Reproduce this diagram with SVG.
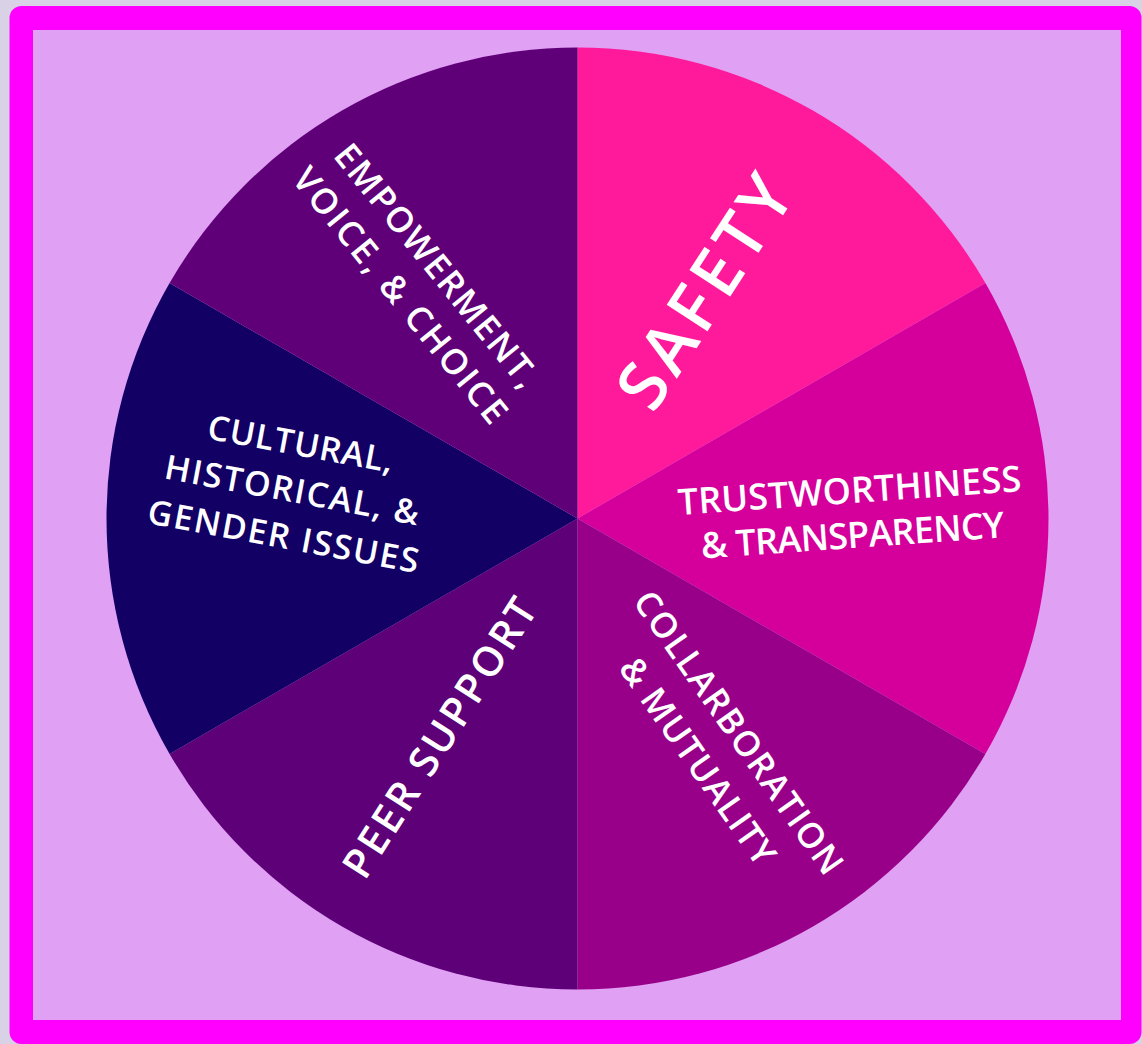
<svg xmlns="http://www.w3.org/2000/svg" width="1142" height="1044" viewBox="0 0 1142 1044">
<style>
.lbl{font-family:"Open Sans","Liberation Sans",sans-serif;font-weight:600;fill:#ffffff;text-anchor:middle}
</style>
<rect x="0" y="0" width="1142" height="1044" fill="#D9D1E6"/>
<rect x="9.5" y="6" width="1132" height="1038" rx="12" fill="#FF00FF"/>
<rect x="33" y="30" width="1088" height="990" fill="#E0A0F4"/>
<g id="connectors"></g>
<g id="safety">
<path d="M577.5,518.5 L577.5,47.5 A471,471 0 0 1 985.4,283 Z" fill="#FF1A9C"/>
<g transform="translate(705,292) rotate(-57)"><text class="lbl" x="0" y="23.5" font-size="68" textLength="262" lengthAdjust="spacing">SAFETY</text></g>
</g>
<g id="trustworthiness">
<path d="M577.5,518.5 L985.4,283 A471,471 0 0 1 985.4,754 Z" fill="#D5009B"/>
<g transform="translate(851,513) rotate(-4)"><text class="lbl" x="0" y="-10" font-size="36" textLength="344" lengthAdjust="spacing">TRUSTWORTHINESS</text><text class="lbl" x="0" y="35" font-size="36" textLength="304" lengthAdjust="spacing">&amp; TRANSPARENCY</text></g>
</g>
<g id="collaboration">
<path d="M577.5,518.5 L985.4,754 A471,471 0 0 1 577.5,989.5 Z" fill="#99008A"/>
<g transform="translate(718,747) rotate(55)"><text class="lbl" x="0" y="-13" font-size="35" textLength="337" lengthAdjust="spacing">COLLARBORATION</text><text class="lbl" x="0" y="37" font-size="35" textLength="244" lengthAdjust="spacing">&amp; MUTUALITY</text></g>
</g>
<g id="peer-support">
<path d="M577.5,518.5 L577.5,989.5 A471,471 0 0 1 169.6,754 Z" fill="#5E0077"/>
<g transform="translate(440,738) rotate(-57.4)"><text class="lbl" x="0" y="14" font-size="41" textLength="323" lengthAdjust="spacing">PEER SUPPORT</text></g>
</g>
<g id="cultural">
<path d="M577.5,518.5 L169.6,754 A471,471 0 0 1 169.6,283 Z" fill="#130065"/>
<g transform="translate(292,490) rotate(10.5)"><text class="lbl" x="0" y="-35" font-size="34" textLength="188" lengthAdjust="spacing">CULTURAL,</text><text class="lbl" x="0" y="12" font-size="34" textLength="258" lengthAdjust="spacing">HISTORICAL, &amp;</text><text class="lbl" x="0" y="59" font-size="34" textLength="275" lengthAdjust="spacing">GENDER ISSUES</text></g>
</g>
<g id="empowerment">
<path d="M577.5,518.5 L169.6,283 A471,471 0 0 1 577.5,47.5 Z" fill="#600078"/>
<g transform="translate(418,281) rotate(51)"><text class="lbl" x="0" y="-12" font-size="35" textLength="302" lengthAdjust="spacing">EMPOWERMENT,</text><text class="lbl" x="0" y="35" font-size="35" textLength="318" lengthAdjust="spacing">VOICE, &amp; CHOICE</text></g>
</g>
</svg>
